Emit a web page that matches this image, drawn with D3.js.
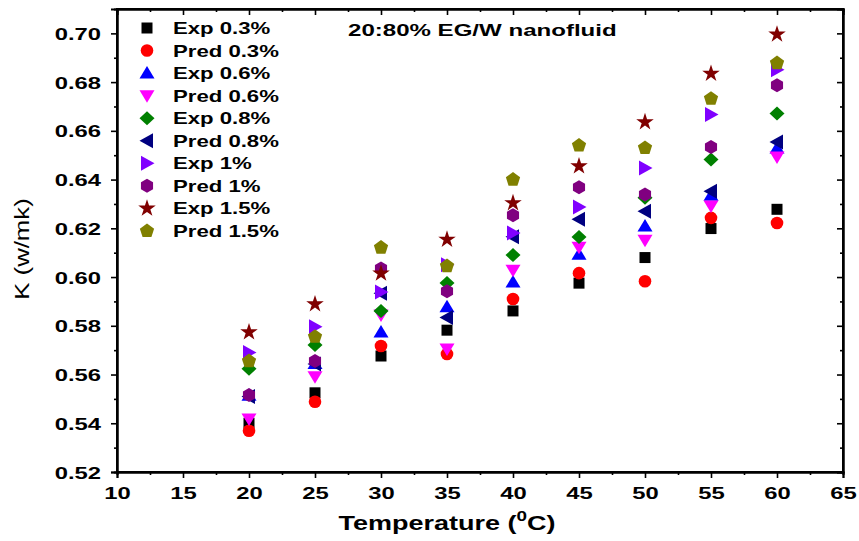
<!DOCTYPE html>
<html><head><meta charset="utf-8">
<script src="https://cdn.jsdelivr.net/npm/d3@7"></script>
<style>body{margin:0;background:#fff}svg{display:block}</style>
</head><body><svg id="c" width="859" height="541"></svg>
<script>
const temps = [20, 25, 30, 35, 40, 45, 50, 55, 60];
const exp03  = [0.540, 0.5525, 0.5676, 0.5782, 0.5861, 0.5975, 0.608, 0.6199, 0.6278];
const pred03 = [0.5369, 0.5488, 0.5717, 0.5684, 0.5910, 0.6016, 0.5983, 0.6243, 0.6222];
const exp06  = [0.5515, 0.5645, 0.5775, 0.5878, 0.5980, 0.6094, 0.6209, 0.6336, 0.6530];
const pred06 = [0.5418, 0.5591, 0.5844, 0.5705, 0.6028, 0.6122, 0.6151, 0.6292, 0.6493];
const exp08  = [0.5624, 0.5721, 0.5861, 0.5976, 0.6090, 0.6164, 0.6325, 0.6482, 0.6671];
const pred08 = [0.5510, 0.5643, 0.5934, 0.5834, 0.6165, 0.6237, 0.6270, 0.6352, 0.6554];
const exp1   = [0.5690, 0.5796, 0.5939, 0.6050, 0.6181, 0.6287, 0.6448, 0.6667, 0.6851];
const pred1  = [0.5516, 0.5655, 0.6035, 0.5942, 0.6254, 0.6369, 0.6339, 0.6534, 0.6787];
const exp15  = [0.5774, 0.5889, 0.6015, 0.6154, 0.6304, 0.6455, 0.6636, 0.6835, 0.6996];
const pred15 = [0.5655, 0.5755, 0.6121, 0.6045, 0.6400, 0.6540, 0.6530, 0.6732, 0.6878];
const seriesNames = ["Exp 0.3%","Pred 0.3%","Exp 0.6%","Pred 0.6%","Exp 0.8%","Pred 0.8%","Exp 1%","Pred 1%","Exp 1.5%","Pred 1.5%"];
const seriesValues = [exp03,pred03,exp06,pred06,exp08,pred08,exp1,pred1,exp15,pred15];
const seriesColors = ["#000000","#ff0000","#0000ff","#ff00ff","#008000","#000080","#8000ff","#800080","#800000","#808000"];
const seriesShapes = ["square","circle","up","down","diamond","left","right","hexagon","star","pentagon"];
const xTicks = [10,15,20,25,30,35,40,45,50,55,60,65];
const yTicks = [0.52,0.54,0.56,0.58,0.60,0.62,0.64,0.66,0.68,0.70];
const titleText = "20:80% EG/W nanofluid";

const FONT = 'Arial,"Liberation Sans",sans-serif';
const K = 1.4; // horizontal stretch of the reference's lettering
const svg = d3.select("#c");
const L = 117, R = 843, T = 9, B = 472;
const x = d3.scaleLinear().domain([10,65]).range([L,R]);
const y = d3.scaleLinear().domain([0.52,0.71]).range([B,T]);

function poly(pts){return {draw(ctx){ctx.moveTo(pts[0][0],pts[0][1]);for(let i=1;i<pts.length;i++)ctx.lineTo(pts[i][0],pts[i][1]);ctx.closePath();}};}
function reg(n,r,off){const p=[];for(let k=0;k<n;k++){const a=(off+k*360/n)*Math.PI/180;p.push([r*Math.cos(a),r*Math.sin(a)]);}return poly(p);}
const shapeTypes = {
  square: poly([[-5.5,-5.5],[5.5,-5.5],[5.5,5.5],[-5.5,5.5]]),
  circle: {draw(ctx){ctx.moveTo(6.3,0);ctx.arc(0,0,6.3,0,2*Math.PI);}},
  up: poly([[0,-7],[7.5,5.5],[-7.5,5.5]]),
  down: poly([[0,7],[7.5,-5.5],[-7.5,-5.5]]),
  diamond: poly([[0,-7],[7.5,0],[0,7],[-7.5,0]]),
  left: poly([[-7.5,0],[6,-7.5],[6,7.5]]),
  right: poly([[7.5,0],[-6,-7.5],[-6,7.5]]),
  hexagon: reg(6,7,-90),
  pentagon: reg(5,7.5,-90)
};
function symPath(name){
  if(name==="star") return d3.symbol().type(d3.symbolStar).size(95)();
  return d3.symbol().type(shapeTypes[name])();
}
function sText(parent, tx, ty, size, weight, str, anchor, rot){
  return parent.append("text")
    .attr("transform",`translate(${tx},${ty})${rot?` rotate(${rot})`:""} scale(${K},1)`)
    .attr("text-anchor",anchor||"start").attr("font-family",FONT)
    .attr("font-size",size).attr("font-weight",weight).attr("fill","#000").text(str);
}

const g = svg.append("g");
g.append("rect").attr("x",L).attr("y",T).attr("width",R-L).attr("height",B-T)
  .attr("fill","none").attr("stroke","#000").attr("stroke-width",2);

const xMinor = d3.range(12.5,65,5);
const yMinor = d3.range(0.53,0.71,0.02);
const xb = g.append("g").attr("transform",`translate(0,${B})`)
  .call(d3.axisBottom(x).tickValues(xTicks).tickFormat(d3.format("d")).tickSize(6).tickPadding(9));
g.append("g").attr("transform",`translate(0,${B})`).call(d3.axisBottom(x).tickValues(xMinor).tickFormat("").tickSize(3));
g.append("g").attr("transform",`translate(0,${T})`).call(d3.axisBottom(x).tickValues(xTicks).tickFormat("").tickSize(6));
g.append("g").attr("transform",`translate(0,${T})`).call(d3.axisBottom(x).tickValues(xMinor).tickFormat("").tickSize(3));
const yl = g.append("g").attr("transform",`translate(${L},0)`)
  .call(d3.axisLeft(y).tickValues(yTicks).tickFormat(d3.format(".2f")).tickSize(6));
g.append("g").attr("transform",`translate(${L},0)`).call(d3.axisLeft(y).tickValues(yMinor).tickFormat("").tickSize(3));
g.append("g").attr("transform",`translate(${R},0)`).call(d3.axisLeft(y).tickValues(yTicks).tickFormat("").tickSize(6));
g.append("g").attr("transform",`translate(${R},0)`).call(d3.axisLeft(y).tickValues(yMinor).tickFormat("").tickSize(3));

g.selectAll(".domain").attr("stroke","#000").attr("stroke-width",2);
g.selectAll(".tick line").attr("stroke","#000").attr("stroke-width",1.6);
g.selectAll(".tick text").style("font-size","17px").style("font-weight","bold")
  .style("font-family",FONT).style("fill","#000").attr("transform",`scale(${K},1)`);
yl.selectAll(".tick text").attr("x",-16/K).attr("dy","0.36em");

// axis titles
const xt = svg.append("text").attr("transform",`translate(${447},530) scale(${K-0.05},1)`)
  .attr("text-anchor","middle").attr("font-family",FONT).attr("font-size",20).attr("font-weight","bold");
xt.append("tspan").text("Temperature (");
xt.append("tspan").text("0").attr("font-size",14).attr("dy",-9);
xt.append("tspan").text("C)").attr("dy",9);
sText(svg, 29, 249, 19.5, "normal", "K (w/mk)", "middle", -90).attr("transform",`translate(29,249) rotate(-90) scale(1.32,1)`);

// title
sText(svg, 348, 36, 17.2, "bold", titleText, "start");

// data
seriesValues.forEach((vals,i)=>{
  const p = symPath(seriesShapes[i]);
  svg.append("g").selectAll("path").data(vals).join("path")
    .attr("d",p).attr("fill",seriesColors[i])
    .attr("transform",(d,j)=>`translate(${x(temps[j])},${y(d)})`);
});

// legend
const lg = svg.append("g");
seriesNames.forEach((n,i)=>{
  const yy = 28 + i*22.55;
  lg.append("path").attr("d",symPath(seriesShapes[i])).attr("fill",seriesColors[i]).attr("transform",`translate(147,${yy})`);
  sText(lg, 173, yy+6, 16.3, "bold", n, "start").attr("transform",`translate(173,${yy+6}) scale(1.36,1)`);
});
</script></body></html>
